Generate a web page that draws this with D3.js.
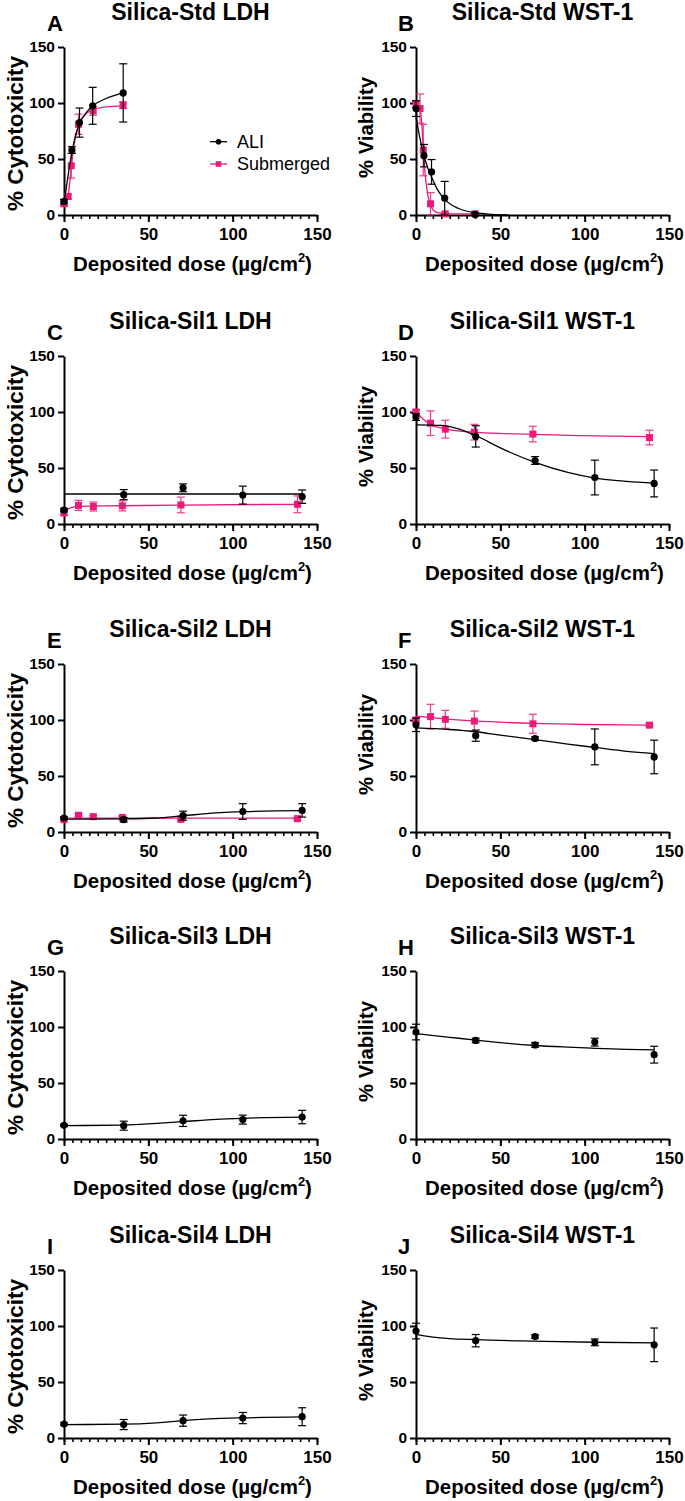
<!DOCTYPE html>
<html>
<head>
<meta charset="utf-8">
<script src="https://cdn.jsdelivr.net/npm/d3@7"></script>
<style>
  body { margin: 0; background: #fff; }
  text { font-family: "Liberation Sans", Arial, sans-serif; }
</style>
</head>
<body>
<svg id="fig" width="685" height="1501"></svg>
<script>
// ---- data ----
const panelLetters = ["A", "B", "C", "D", "E", "F", "G", "H", "I", "J"];
const panelTitles = ["Silica-Std LDH", "Silica-Std WST-1", "Silica-Sil1 LDH", "Silica-Sil1 WST-1",
  "Silica-Sil2 LDH", "Silica-Sil2 WST-1", "Silica-Sil3 LDH", "Silica-Sil3 WST-1",
  "Silica-Sil4 LDH", "Silica-Sil4 WST-1"];
const yLabels = ["% Cytotoxicity", "% Viability"];
const xLabel = "Deposited dose (µg/cm";
const xTicks = [0, 50, 100, 150];
const yTicks = [0, 50, 100, 150];
const xMinorTicks = [0, 5, 10, 15, 20, 25, 30, 35, 40, 45, 50, 55, 60, 65, 70, 75, 80, 85, 90, 95, 100,
  105, 110, 115, 120, 125, 130, 135, 140, 145, 150];
const seriesNames = ["ALI", "Submerged"];

// doses
const aliDoseStd = [0, 4.7, 9.2, 17, 35.1];
const subDoseStd = [0, 2.4, 4.3, 8.6, 17.3, 35];
const aliDoseSil = [0, 35.4, 70.6, 106, 141.2];
const subDoseSil = [0, 8.6, 17.4, 34.6, 69.3, 138.4];

// A  Silica-Std LDH
const aliMeanA = [12, 58, 82.5, 97.5, 109];
const aliErrA = [2, 3, 13, 16.5, 26];
const aliFitA = [[0, 10], [2, 31], [4.7, 56], [7, 72], [9.2, 82], [12, 89], [17, 97.5], [25, 104], [35.1, 109]];
const subMeanA = [10, 16.5, 44, 81, 93, 98];
const subErrA = [2, 2, 11, 9, 4, 3];
const subFitA = [[0, 9], [2.4, 17], [4.3, 42], [6, 63], [8.6, 80], [12, 89], [17.3, 94], [25, 96.5], [35, 97.5]];

// B  Silica-Std WST-1
const aliMeanB = [95, 53, 38.5, 15, 0.5];
const aliErrB = [7, 10, 11, 15, 1];
const aliFitB = [[0, 88], [2, 71], [4.7, 53], [7, 42], [9.2, 34], [13, 22], [17, 14], [25, 6], [35, 2], [45, 0.6], [55, 0]];
const subMeanB = [99, 95, 58, 10, 1, 1];
const subErrB = [3, 13, 23, 10, 1, 1];
const subFitB = [[0, 100], [2.4, 95], [3.5, 80], [4.3, 60], [5.5, 35], [7, 18], [8.6, 9], [12, 2.5], [17.3, 1], [35, 1]];

// C  Silica-Sil1 LDH
const aliMeanC = [12.4, 26.2, 32.3, 25.8, 24.4];
const aliErrC = [1.5, 4.5, 3.5, 8, 6];
const aliFitC = [[0, 26.8], [141.2, 26.8]];
const subMeanC = [9.8, 16.6, 15.6, 16.2, 17, 17.6];
const subErrC = [2, 4.5, 4, 4.5, 7, 7.5];
const subFitC = [[0, 11], [3, 14], [8.6, 15.8], [17.4, 16], [34.6, 16.3], [69.3, 16.9], [138.4, 17.6]];

// D  Silica-Sil1 WST-1
const aliMeanD = [95.5, 78.2, 56.7, 41.5, 36.2];
const aliErrD = [3, 9.5, 3.5, 15.5, 12];
const aliFitD = [[0, 88.5], [15, 88], [25, 85], [35.4, 79], [50, 68], [70.6, 55], [90, 46], [106, 41], [125, 38], [141.2, 36.5]];
const subMeanD = [100, 90, 84.7, 82, 80.3, 77.2];
const subErrD = [2, 11, 8, 7, 7, 6.5];
const subFitD = [[0, 100], [4, 94], [8.6, 89], [17.4, 85], [34.6, 82], [69.3, 80], [138.4, 78]];

// E  Silica-Sil2 LDH
const aliMeanE = [12.5, 11, 14.6, 18.3, 19.3];
const aliErrE = [1, 2, 4, 7, 6];
const aliFitE = [[0, 11.5], [35.4, 11.8], [55, 12.5], [70.6, 14.5], [90, 17], [106, 18.2], [141.2, 19]];
const subMeanE = [11, 15, 13.7, 13, 11.3, 11.9];
const subErrE = [1, 1, 1, 1, 1, 1];
const subFitE = [[0, 12.3], [138.4, 12.3]];

// F  Silica-Sil2 WST-1
const aliMeanF = [95.7, 86, 83.5, 76, 67];
const aliErrF = [6, 5, 1.5, 16, 15];
const aliFitF = [[0, 93], [20, 91.5], [35.4, 89.5], [50, 86.5], [70.6, 82.5], [90, 78.5], [106, 75.5], [125, 72], [141.2, 70]];
const subMeanF = [100, 103, 100.6, 99, 96.6, 95.4];
const subErrF = [2, 11, 8, 9, 8.5, 1];
const subFitF = [[0, 103.5], [8.6, 102.3], [17.4, 101], [34.6, 99.2], [69.3, 97], [100, 96], [138.4, 95.5]];

// G-J  ALI only
const aliMeanG = [12.2, 11.9, 16.2, 17.3, 19.6];
const aliErrG = [1, 4, 5, 4, 6];
const aliFitG = [[0, 12], [35.4, 12.4], [55, 14], [70.6, 15.5], [90, 17.5], [106, 18.5], [141.2, 19.5]];
const aliMeanH = [95.5, 88, 84, 86.5, 75.3];
const aliErrH = [7, 2, 2, 3.5, 7.5];
const aliFitH = [[0, 94], [20, 90.8], [35.4, 88.3], [50, 86], [70.6, 83.5], [90, 82], [106, 81], [125, 80], [141.2, 79.5]];
const aliMeanI = [12.5, 12, 15.5, 17.8, 19];
const aliErrI = [1, 4.5, 5, 5, 8];
const aliFitI = [[0, 12], [35.4, 12.3], [55, 13.5], [70.6, 15.5], [90, 17.3], [106, 18], [141.2, 18.8]];
const aliMeanJ = [95.5, 86.9, 90.6, 85.4, 83.2];
const aliErrJ = [7, 5.5, 1.5, 3, 15];
const aliFitJ = [[0, 92.5], [10, 90], [20, 88.7], [35.4, 87.8], [70.6, 86.5], [106, 85.5], [141.2, 85]];

// ---- styling / layout ----
const BLACK = "#000";
const PINK = "#ec1a78";
const rowTops = [47, 356, 664, 971, 1270];
const colLefts = [64, 416];
const plotW = 253, plotH = 168;

function ali(dose, mean, err, fit) { return {dose, mean, err, fit, color: BLACK, shape: "circle"}; }
function sub(dose, mean, err, fit) { return {dose, mean, err, fit, color: PINK, shape: "square"}; }

const panelSeries = [
  [sub(subDoseStd, subMeanA, subErrA, subFitA), ali(aliDoseStd, aliMeanA, aliErrA, aliFitA)],
  [sub(subDoseStd, subMeanB, subErrB, subFitB), ali(aliDoseStd, aliMeanB, aliErrB, aliFitB)],
  [sub(subDoseSil, subMeanC, subErrC, subFitC), ali(aliDoseSil, aliMeanC, aliErrC, aliFitC)],
  [sub(subDoseSil, subMeanD, subErrD, subFitD), ali(aliDoseSil, aliMeanD, aliErrD, aliFitD)],
  [sub(subDoseSil, subMeanE, subErrE, subFitE), ali(aliDoseSil, aliMeanE, aliErrE, aliFitE)],
  [sub(subDoseSil, subMeanF, subErrF, subFitF), ali(aliDoseSil, aliMeanF, aliErrF, aliFitF)],
  [ali(aliDoseSil, aliMeanG, aliErrG, aliFitG)],
  [ali(aliDoseSil, aliMeanH, aliErrH, aliFitH)],
  [ali(aliDoseSil, aliMeanI, aliErrI, aliFitI)],
  [ali(aliDoseSil, aliMeanJ, aliErrJ, aliFitJ)]
];

const svg = d3.select("#fig");
const x = d3.scaleLinear().domain([0, 150]).range([0, plotW]);
const y = d3.scaleLinear().domain([0, 150]).range([plotH, 0]);
const fitLine = d3.line().x(d => x(d[0])).y(d => y(d[1])).curve(d3.curveMonotoneX);

function drawMarker(sel, shape, color, size) {
  if (shape === "circle") {
    sel.append("circle").attr("r", size / 2).attr("fill", color);
  } else {
    sel.append("rect").attr("x", -size / 2).attr("y", -size / 2)
      .attr("width", size).attr("height", size).attr("fill", color);
  }
}

panelSeries.forEach((series, i) => {
  const col = i % 2, row = Math.floor(i / 2);
  const g = svg.append("g").attr("transform", "translate(" + colLefts[col] + "," + rowTops[row] + ")");

  // minor x ticks
  g.append("g")
    .attr("transform", "translate(0," + plotH + ")")
    .call(d3.axisBottom(x).tickValues(xMinorTicks).tickSize(4).tickFormat(""))
    .call(a => a.select(".domain").remove())
    .selectAll("line").attr("stroke", BLACK).attr("stroke-width", 1.6);

  // major x axis
  const xa = g.append("g")
    .attr("transform", "translate(0," + plotH + ")")
    .call(d3.axisBottom(x).tickValues(xTicks).tickSize(7).tickSizeOuter(0).tickPadding(6));
  xa.selectAll("path,line").attr("stroke", BLACK).attr("stroke-width", 2);
  xa.selectAll("text").attr("font-size", 17).attr("font-weight", "bold")
    .attr("font-family", "'Liberation Sans', Arial, sans-serif").attr("fill", BLACK);

  // y axis
  const ya = g.append("g")
    .call(d3.axisLeft(y).tickValues(yTicks).tickSize(6).tickSizeOuter(0).tickPadding(3));
  ya.selectAll("path,line").attr("stroke", BLACK).attr("stroke-width", 2);
  ya.selectAll("text").attr("font-size", 15.5).attr("font-weight", "bold")
    .attr("font-family", "'Liberation Sans', Arial, sans-serif").attr("fill", BLACK);

  // titles / labels
  g.append("text").attr("x", plotW / 2).attr("y", -27)
    .attr("text-anchor", "middle").attr("font-size", 23).attr("font-weight", "bold")
    .text(panelTitles[i]);
  g.append("text").attr("x", col === 0 ? -17 : -18).attr("y", -16)
    .attr("font-size", 22).attr("font-weight", "bold")
    .text(panelLetters[i]);

  const isLdh = col === 0;
  g.append("text")
    .attr("transform", "translate(" + (isLdh ? -41 : -43) + "," + (plotH / 2 + (isLdh ? 2.5 : -3.5)) + ") rotate(-90)")
    .attr("text-anchor", "middle").attr("font-size", isLdh ? 22.5 : 20.3).attr("font-weight", "bold")
    .text(yLabels[col]);

  const xl = g.append("text").attr("x", plotW / 2 + 2).attr("y", plotH + 56)
    .attr("text-anchor", "middle").attr("font-size", 20.5).attr("font-weight", "bold");
  xl.append("tspan").text(xLabel);
  xl.append("tspan").attr("font-size", 13).attr("dy", -9).text("2");
  xl.append("tspan").attr("dy", 9).text(")");

  // series
  series.forEach(s => {
    g.append("path").attr("d", fitLine(s.fit))
      .attr("fill", "none").attr("stroke", s.color).attr("stroke-width", 1.3);

    const pts = s.dose.map((d, k) => ({d: d, m: s.mean[k], e: s.err[k]}));
    const eb = g.append("g").attr("stroke", s.color).attr("stroke-width", 1.2)
      .attr("opacity", s.shape === "square" ? 0.85 : 1);
    pts.forEach(p => {
      const cx = x(p.d), top = y(p.m + p.e), bot = y(Math.max(0, p.m - p.e));
      eb.append("line").attr("x1", cx).attr("x2", cx).attr("y1", top).attr("y2", bot);
      eb.append("line").attr("x1", cx - 4).attr("x2", cx + 4).attr("y1", top).attr("y2", top);
      eb.append("line").attr("x1", cx - 4).attr("x2", cx + 4).attr("y1", bot).attr("y2", bot);
    });
    pts.forEach(p => {
      const m = g.append("g").attr("transform", "translate(" + x(p.d) + "," + y(p.m) + ")");
      drawMarker(m, s.shape, s.color, s.shape === "circle" ? 7.2 : 7);
    });
  });

  // legend in panel A only
  if (i === 0) {
    const leg = g.append("g");
    [[BLACK, "circle"], [PINK, "square"]].forEach((st, k) => {
      const cy = 94.7 + k * 22.3;
      leg.append("line").attr("x1", 146).attr("x2", 163).attr("y1", cy).attr("y2", cy)
        .attr("stroke", st[0]).attr("stroke-width", 1.3);
      const m = leg.append("g").attr("transform", "translate(154.5," + cy + ")");
      drawMarker(m, st[1], st[0], st[1] === "circle" ? 5.6 : 5.6);
      leg.append("text").attr("x", 173).attr("y", cy + 6.4)
        .attr("font-size", 18).text(seriesNames[k]);
    });
  }
});
</script>
</body>
</html>
